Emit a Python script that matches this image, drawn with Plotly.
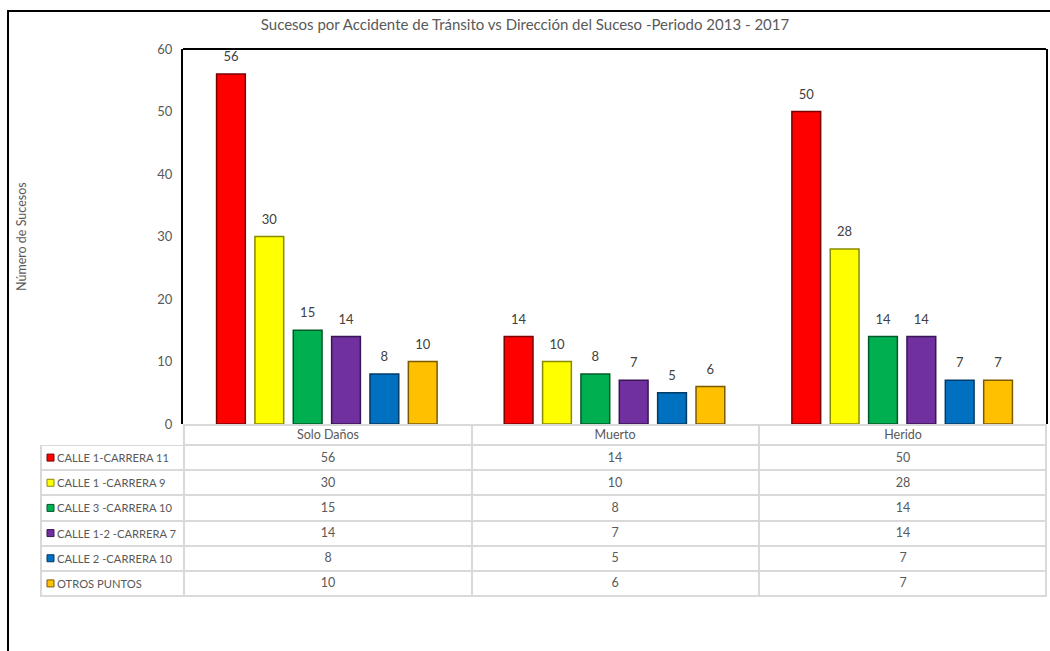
import plotly.graph_objects as go

categories = ["Solo Daños", "Muerto", "Herido"]
series_names = ["CALLE 1-CARRERA 11", "CALLE 1 -CARRERA 9", "CALLE 3 -CARRERA 10",
                "CALLE 1-2 -CARRERA 7", "CALLE 2 -CARRERA 10", "OTROS PUNTOS"]
calle1_carrera11 = [56, 14, 50]
calle1_carrera9 = [30, 10, 28]
calle3_carrera10 = [15, 8, 14]
calle12_carrera7 = [14, 7, 14]
calle2_carrera10 = [8, 5, 7]
otros_puntos = [10, 6, 7]
series_values = [calle1_carrera11, calle1_carrera9, calle3_carrera10,
                 calle12_carrera7, calle2_carrera10, otros_puntos]
y_ticks = [0, 10, 20, 30, 40, 50, 60]

colors = ["#FF0000", "#FFFF00", "#00B050", "#7030A0", "#0070C0", "#FFC000"]
edges = ["#7A0000", "#8A8A00", "#005A28", "#3A1555", "#003A66", "#7A5A00"]

W, H = 1050, 651
FONT = "Lato"
GRAY = "#595959"
GRID = "#D9D9D9"

fig = go.Figure()
for i, (name, vals, c, e) in enumerate(zip(series_names, series_values, colors, edges)):
    fig.add_trace(go.Bar(
        x=categories, y=vals, name=name, offsetgroup=f"s{i}",
        marker=dict(color=c, line=dict(color=e, width=1.5)),
        showlegend=False, hoverinfo="skip",
    ))
for i, vals in enumerate(series_values):
    fig.add_trace(go.Scatter(
        x=categories, y=vals, mode="markers+text", text=[str(v) for v in vals],
        textposition="top center", offsetgroup=f"s{i}",
        marker=dict(size=14, color="rgba(0,0,0,0)"),
        textfont=dict(family=FONT, size=13, color="#404040"),
        cliponaxis=False, showlegend=False, hoverinfo="skip",
    ))

# ---- data table below the chart (heatmap cells on their own axes) ----
col_widths = [143, 288, 288, 287]
header_h, row_h = 20, 25.17
x_edges = [0]
for w in col_widths:
    x_edges.append(x_edges[-1] + w)
y_edges = [0, header_h]
for _ in series_names:
    y_edges.append(y_edges[-1] + row_h)
row_centers = [(y_edges[k] + y_edges[k + 1]) / 2 for k in range(len(y_edges) - 1)]

z = [[None, 0, 0, 0]] + [[0, 0, 0, 0] for _ in series_names]
cell_text = [[""] + categories] + [[""] + [str(v[j]) for j in range(len(categories))]
                                     for v in series_values]
fig.add_trace(go.Heatmap(
    x=x_edges, y=y_edges, z=z, text=cell_text, texttemplate="%{text}",
    textfont=dict(family=FONT, size=12.5, color=GRAY),
    colorscale=[[0, "white"], [1, "white"]], zmin=0, zmax=1, showscale=False,
    xgap=2, ygap=2, hoverinfo="skip", xaxis="x2", yaxis="y2",
))
# legend keys
fig.add_trace(go.Scatter(
    x=[9.5] * len(series_names), y=row_centers[1:], mode="markers",
    marker=dict(symbol="square", size=7, color=colors, line=dict(color=edges, width=1)),
    xaxis="x2", yaxis="y2", showlegend=False, hoverinfo="skip", cliponaxis=False,
))

annotations = [dict(text="Número de Sucesos", textangle=-90, x=22 / W, y=1 - 237 / H,
                    xref="paper", yref="paper", xanchor="center", yanchor="middle",
                    showarrow=False, font=dict(family=FONT, size=12.5, color=GRAY))]
for name, yc in zip(series_names, row_centers[1:]):
    annotations.append(dict(text=name, x=14, y=yc, xref="x2", yref="y2", xanchor="left",
                            showarrow=False, font=dict(family=FONT, size=11.2, color=GRAY)))

fig.update_layout(
    width=W, height=H,
    margin=dict(l=0, r=0, t=0, b=0, autoexpand=False),
    paper_bgcolor="white", plot_bgcolor="white",
    barmode="group", bargap=0.2, bargroupgap=0.25,
    scattermode="group", scattergap=0.2,
    font=dict(family=FONT, color=GRAY),
    title=dict(text="Sucesos por Accidente de Tránsito vs Dirección del Suceso -Periodo 2013 - 2017",
               x=525 / W, xanchor="center", y=1 - 25 / H, yanchor="middle",
               font=dict(family=FONT, size=15, color=GRAY)),
    xaxis=dict(domain=[183 / W, 1046 / W], showticklabels=False, showgrid=False,
               zeroline=False, showline=False, ticks=""),
    yaxis=dict(domain=[1 - 424 / H, 1 - 49 / H], range=[0, 60], tickvals=y_ticks,
               showgrid=False, zeroline=False, showline=True, linecolor="black",
               linewidth=2, mirror=True, ticks="", ticklabelstandoff=6,
               tickfont=dict(family=FONT, size=13, color=GRAY)),
    xaxis2=dict(domain=[40 / W, 1047 / W], range=[-1, x_edges[-1] + 1], visible=False,
                fixedrange=True),
    yaxis2=dict(domain=[1 - 597 / H, 1 - 424 / H], range=[y_edges[-1] + 1, -1], visible=False,
                fixedrange=True),
    annotations=annotations,
    shapes=[
        dict(type="line", xref="x domain", yref="y domain", x0=0, x1=1, y0=1, y1=1,
             line=dict(color="black", width=2)),
        dict(type="rect", xref="paper", yref="paper", x0=8 / W, x1=1.02, y0=-0.02, y1=1 - 11 / H,
             line=dict(color="black", width=2)),
        # table grid background (shows through the cell gaps)
        dict(type="rect", xref="x2", yref="y2", layer="below", line=dict(width=0),
             fillcolor=GRID, x0=x_edges[1] - 1, x1=x_edges[-1] + 1, y0=-1, y1=y_edges[1]),
        dict(type="rect", xref="x2", yref="y2", layer="below", line=dict(width=0),
             fillcolor=GRID, x0=-1, x1=x_edges[-1] + 1, y0=y_edges[1], y1=y_edges[-1] + 1),
    ],
)

fig.write_html("out.html")
